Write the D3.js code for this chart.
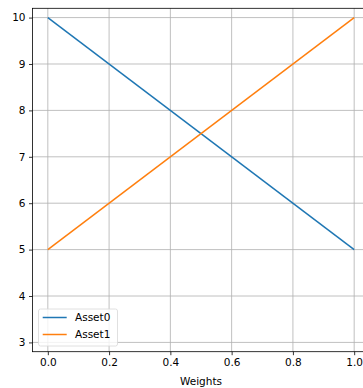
<!DOCTYPE html>
<html>
<head>
<meta charset="utf-8">
<script src="https://cdn.jsdelivr.net/npm/d3@7"></script>
<style>
  body { margin: 0; background: #fff; }
  svg { display: block; font-family: "DejaVu Sans", sans-serif; }
</style>
</head>
<body>
<svg id="chart" width="363" height="388"></svg>
<script>
const weights = [0.0, 1.0];
const asset0 = [10, 5];
const asset1 = [5, 10];
const seriesNames = ["Asset0", "Asset1"];
const seriesColors = ["#1f77b4", "#ff7f0e"];
const xTicks = [0.0, 0.2, 0.4, 0.6, 0.8, 1.0];
const yTicks = [3, 4, 5, 6, 7, 8, 9, 10];

const svg = d3.select("#chart");
const plot = { left: 32.5, right: 369.5, top: 8.3, bottom: 351.7 };

const x = d3.scaleLinear().domain([-0.05, 1.05]).range([plot.left, plot.right]);
const y = d3.scaleLinear().domain([2.8, 10.2]).range([plot.bottom, plot.top]);

// grid
svg.append("g").selectAll("line").data(xTicks).join("line")
  .attr("x1", d => x(d)).attr("x2", d => x(d))
  .attr("y1", plot.top).attr("y2", plot.bottom)
  .attr("stroke", "#b0b0b0").attr("stroke-width", 0.8);
svg.append("g").selectAll("line").data(yTicks).join("line")
  .attr("x1", plot.left).attr("x2", plot.right)
  .attr("y1", d => y(d)).attr("y2", d => y(d))
  .attr("stroke", "#b0b0b0").attr("stroke-width", 0.8);

// lines
const line = d3.line().x((d, i) => x(weights[i])).y(d => d);
[asset0, asset1].forEach((vals, k) => {
  svg.append("path")
    .attr("d", line(vals.map(v => y(v))))
    .attr("fill", "none")
    .attr("stroke", seriesColors[k])
    .attr("stroke-width", 1.5);
});

// axes
const xAxis = svg.append("g").attr("transform", `translate(0,${plot.bottom})`)
  .call(d3.axisBottom(x).tickValues(xTicks).tickFormat(d3.format(".1f")).tickSize(3.5).tickPadding(3.5));
const yAxis = svg.append("g").attr("transform", `translate(${plot.left},0)`)
  .call(d3.axisLeft(y).tickValues(yTicks).tickFormat(d3.format("d")).tickSize(3.5).tickPadding(3.5));
[xAxis, yAxis].forEach(a => {
  a.select(".domain").remove();
  a.selectAll("line").attr("stroke", "#000").attr("stroke-width", 0.8);
  a.selectAll("text").attr("fill", "#000").style("font-size", "10.5px").style("font-family", "DejaVu Sans, sans-serif");
});

// spines
svg.append("rect")
  .attr("x", plot.left).attr("y", plot.top)
  .attr("width", plot.right - plot.left).attr("height", plot.bottom - plot.top)
  .attr("fill", "none").attr("stroke", "#000").attr("stroke-width", 0.8);

svg.append("text")
  .attr("x", (plot.left + plot.right) / 2).attr("y", 385)
  .attr("text-anchor", "middle")
  .style("font-size", "10.5px")
  .text("Weights");

// legend
const lg = svg.append("g");
lg.append("rect")
  .attr("x", 38.5).attr("y", 309).attr("width", 79).attr("height", 37)
  .attr("rx", 2)
  .attr("fill", "#fff").attr("fill-opacity", 0.8)
  .attr("stroke", "#d8d8d8").attr("stroke-width", 0.8);
seriesNames.forEach((name, i) => {
  const yy = 317.5 + i * 17;
  lg.append("line")
    .attr("x1", 42.7).attr("x2", 66.7).attr("y1", yy).attr("y2", yy)
    .attr("stroke", seriesColors[i]).attr("stroke-width", 1.5);
  lg.append("text")
    .attr("x", 75).attr("y", yy).attr("dy", "0.35em")
    .style("font-size", "10.5px")
    .text(name);
});
</script>
</body>
</html>
